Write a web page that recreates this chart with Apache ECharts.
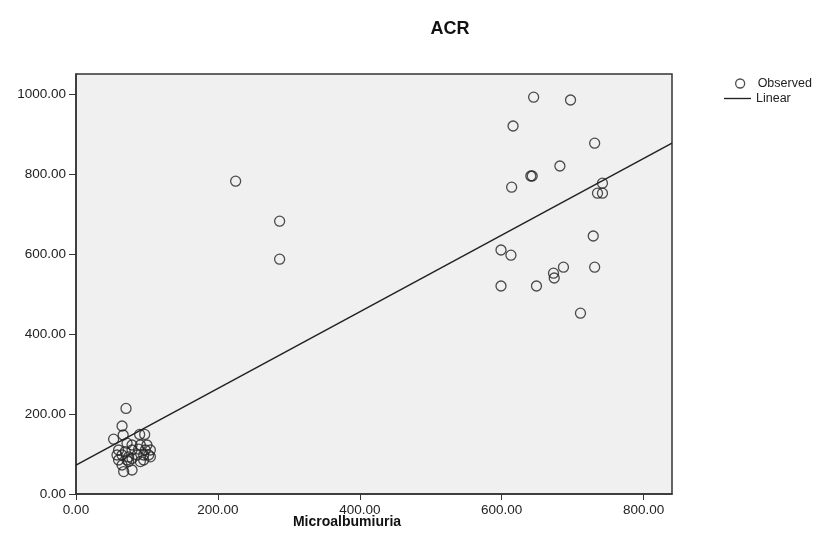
<!DOCTYPE html>
<html lang="en">
<head>
    <meta charset="UTF-8">
    <title>ACR</title>
    <script src="https://cdn.jsdelivr.net/npm/echarts@6/dist/echarts.min.js"></script>
    <style>
        body { margin: 0; background: #fff; }
    </style>
</head>
<body>
    <div id="main" style="width:827px;height:548px;"></div>
</body>
<script type="text/javascript">
    // observed points: Microalbumiuria (x) vs ACR (y)
    var microX = [
        70.5, 64.9, 66.5, 53, 89.7, 96.8, 71.9, 79, 90.7, 100,
        60, 69.5, 79, 88.3, 97.7, 104.8, 57.8, 64.9, 74.2, 86,
        95.4, 102.4, 60, 71.9, 79, 95.4, 104.8, 64.9, 74.2, 90.7,
        67.2, 79,
        225, 287, 287,
        645, 697, 616, 731, 682, 641, 643, 614, 742, 735,
        742, 729, 599, 613, 687, 731, 673, 674, 599, 649, 711
    ];
    var acrY = [
        214, 170, 147.5, 137, 149, 149, 127, 122.5, 122.5, 122.5,
        110, 106, 110, 112, 110, 110, 97.5, 97.5, 93, 97.5,
        97.5, 97.5, 85, 85, 89, 85, 93, 72.5, 81, 81,
        56, 60,
        782, 682, 587,
        992, 985, 920, 877, 820, 795, 795, 767, 777, 752,
        752, 645, 610, 597, 567, 567, 552, 540, 520, 520, 452
    ];
    // linear fit line at both plot edges
    var fitX = [0, 840];
    var fitY = [72, 877];

    var xTicks = [0, 200, 400, 600, 800];
    var yTicks = [0, 200, 400, 600, 800, 1000];

    var observed = [];
    for (var i = 0; i < microX.length; i++) {
        observed.push([microX[i], acrY[i]]);
    }
    var linear = [];
    for (var j = 0; j < fitX.length; j++) {
        linear.push([fitX[j], fitY[j]]);
    }

    var myChart = echarts.init(document.getElementById('main'));
    var font = 'Arial, "Liberation Sans", sans-serif';

    var option = {
        animation: false,
        textStyle: { fontFamily: font },
        title: [
            {
                text: 'ACR',
                left: 445,
                top: 15,
                textAlign: 'center',
                textStyle: { fontSize: 18, fontWeight: 'bold', color: '#111', fontFamily: font }
            },
            {
                text: 'Microalbumiuria',
                left: 342,
                top: 510,
                textAlign: 'center',
                textStyle: { fontSize: 14, fontWeight: 'bold', color: '#111', fontFamily: font }
            }
        ],
        legend: [
            {
                data: [{
                    name: 'Observed',
                    icon: 'circle',
                    itemStyle: { color: 'rgba(0,0,0,0)', borderColor: '#222', borderWidth: 1.3 }
                }],
                left: 735,
                top: 77,
                padding: 0,
                itemWidth: 9,
                itemHeight: 9,
                textStyle: { fontSize: 12.5, color: '#222', fontFamily: font, padding: [0, 0, 0, 8] }
            },
            {
                data: [{ name: 'Linear', icon: 'path://M0,0H100V5H0Z' }],
                left: 724,
                top: 92,
                padding: 0,
                itemWidth: 27,
                itemHeight: 12,
                itemStyle: { color: '#222' },
                textStyle: { fontSize: 12.5, color: '#222', fontFamily: font }
            }
        ],
        grid: {
            left: 76,
            right: 155,
            top: 74,
            bottom: 54,
            show: true,
            backgroundColor: '#f0f0f0',
            borderColor: '#333',
            borderWidth: 1.5
        },
        xAxis: {
            type: 'value',
            min: 0,
            max: 840,
            splitLine: { show: false },
            axisLine: { show: true, onZero: false, lineStyle: { color: '#333', width: 1.5 } },
            axisTick: { show: true, inside: false, length: 6, customValues: xTicks, lineStyle: { color: '#333' } },
            axisLabel: {
                customValues: xTicks,
                margin: 9,
                fontSize: 13.5,
                color: '#222',
                formatter: function (v) { return v.toFixed(2); }
            }
        },
        yAxis: {
            type: 'value',
            min: 0,
            max: 1050,
            splitLine: { show: false },
            axisLine: { show: true, onZero: false, lineStyle: { color: '#333', width: 1.5 } },
            axisTick: { show: true, inside: false, length: 7, customValues: yTicks, lineStyle: { color: '#333' } },
            axisLabel: {
                customValues: yTicks,
                margin: 10,
                fontSize: 13.5,
                color: '#222',
                formatter: function (v) { return v.toFixed(2); }
            }
        },
        series: [
            {
                name: 'Observed',
                type: 'scatter',
                symbol: 'circle',
                symbolSize: 10,
                itemStyle: { color: 'rgba(0,0,0,0)', borderColor: '#222', borderWidth: 1.3 },
                data: observed,
                z: 3
            },
            {
                name: 'Linear',
                type: 'line',
                symbol: 'none',
                showSymbol: false,
                lineStyle: { color: '#222', width: 1.5 },
                itemStyle: { color: '#222' },
                data: linear,
                z: 2
            }
        ]
    };

    myChart.setOption(option);
</script>
</html>
